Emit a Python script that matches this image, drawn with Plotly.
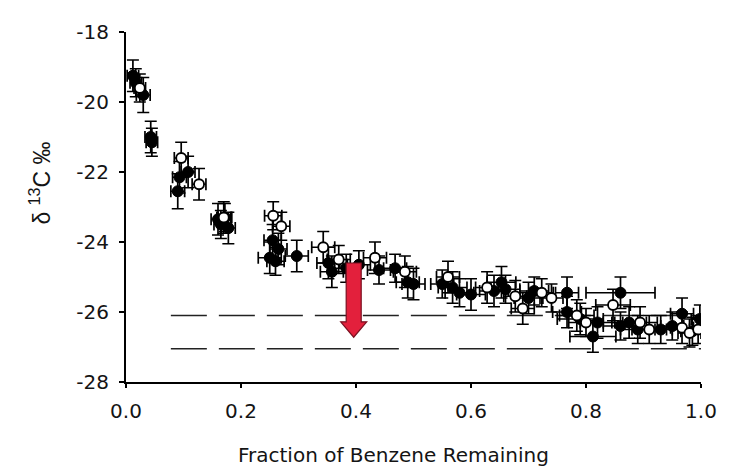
import plotly.graph_objects as go

# ---- data ----
filled_x = [0.012, 0.017, 0.030, 0.043, 0.045, 0.090, 0.093, 0.108, 0.160, 0.165, 0.172, 0.178,
            0.255, 0.250, 0.265, 0.260, 0.297, 0.352, 0.358, 0.383, 0.405, 0.440, 0.468, 0.490,
            0.500, 0.550, 0.568, 0.580, 0.600, 0.640, 0.653, 0.660, 0.700, 0.710, 0.767, 0.767,
            0.790, 0.812, 0.820, 0.860, 0.860, 0.875, 0.890, 0.930, 0.967, 0.998, 0.985, 0.950]
filled_y = [-19.25, -19.45, -19.80, -21.00, -21.15, -22.55, -22.15, -22.00, -23.35, -23.50, -23.30, -23.60,
            -23.95, -24.45, -24.20, -24.55, -24.40, -24.60, -24.85, -24.75, -24.65, -24.80, -24.75, -25.15,
            -25.20, -25.20, -25.30, -25.45, -25.50, -25.40, -25.15, -25.35, -25.60, -25.40, -25.45, -26.00,
            -26.20, -26.70, -26.30, -25.45, -26.40, -26.30, -26.50, -26.50, -26.05, -26.20, -26.55, -26.40]
filled_ex = [0.010, 0.010, 0.012, 0.010, 0.010, 0.012, 0.012, 0.012, 0.012, 0.012, 0.012, 0.012,
             0.015, 0.020, 0.015, 0.015, 0.020, 0.020, 0.020, 0.020, 0.020, 0.020, 0.020, 0.020,
             0.020, 0.020, 0.025, 0.025, 0.025, 0.025, 0.025, 0.025, 0.025, 0.025, 0.020, 0.025,
             0.040, 0.040, 0.030, 0.060, 0.030, 0.030, 0.030, 0.020, 0.020, 0.015, 0.020, 0.020]
filled_ey = [0.45, 0.40, 0.50, 0.45, 0.40, 0.50, 0.45, 0.45, 0.45, 0.40, 0.40, 0.45,
             0.45, 0.45, 0.45, 0.40, 0.45, 0.45, 0.45, 0.40, 0.40, 0.40, 0.40, 0.45,
             0.45, 0.40, 0.45, 0.40, 0.45, 0.45, 0.45, 0.40, 0.45, 0.40, 0.45, 0.45,
             0.45, 0.45, 0.45, 0.45, 0.40, 0.45, 0.40, 0.40, 0.45, 0.40, 0.40, 0.40]

open_x = [0.024, 0.096, 0.127, 0.170, 0.256, 0.270, 0.343, 0.370, 0.433, 0.485, 0.560, 0.628,
          0.677, 0.690, 0.723, 0.740, 0.784, 0.800, 0.847, 0.894, 0.910, 0.967, 0.980, 0.995]
open_y = [-19.60, -21.60, -22.35, -23.30, -23.25, -23.55, -24.15, -24.50, -24.45, -24.85, -25.00, -25.30,
          -25.55, -25.90, -25.45, -25.60, -26.10, -26.30, -25.80, -26.30, -26.50, -26.45, -26.60, -26.50]
open_ex = [0.010, 0.012, 0.012, 0.012, 0.015, 0.015, 0.020, 0.020, 0.020, 0.020, 0.020, 0.020,
           0.020, 0.020, 0.020, 0.020, 0.030, 0.030, 0.030, 0.030, 0.030, 0.020, 0.020, 0.015]
open_ey = [0.40, 0.45, 0.45, 0.45, 0.40, 0.40, 0.45, 0.40, 0.45, 0.45, 0.45, 0.45,
           0.45, 0.45, 0.40, 0.40, 0.45, 0.40, 0.45, 0.45, 0.40, 0.45, 0.40, 0.40]

dashed_levels = [-26.10, -27.05]
dashed_x = [0.078, 1.0]

arrow_x = 0.396
arrow_y_start = -24.6
arrow_y_head = -26.28
arrow_y_tip = -26.72

x_tick_vals = [0.0, 0.2, 0.4, 0.6, 0.8, 1.0]
x_tick_text = ["0.0", "0.2", "0.4", "0.6", "0.8", "1.0"]
y_tick_vals = [-28, -26, -24, -22, -20, -18]
y_tick_text = ["-28", "-26", "-24", "-22", "-20", "-18"]

FONT = "DejaVu Sans, Liberation Sans, Arial, sans-serif"
FONT_T = "Liberation Sans, Arial, sans-serif"
TXT = "#141414"

fig = go.Figure()

for lvl in dashed_levels:
    fig.add_trace(go.Scatter(
        x=dashed_x, y=[lvl, lvl], mode="lines",
        line=dict(color="#222222", width=1.6, dash="36px,12px"),
        hoverinfo="skip", showlegend=False))

err_style = dict(thickness=1.7, width=6, color="black")

fig.add_trace(go.Scatter(
    x=filled_x, y=filled_y, mode="markers",
    marker=dict(symbol="circle", size=11, color="black", line=dict(color="black", width=1)),
    error_x=dict(type="data", array=filled_ex, visible=True, **err_style),
    error_y=dict(type="data", array=filled_ey, visible=True, **err_style),
    showlegend=False))

fig.add_trace(go.Scatter(
    x=open_x, y=open_y, mode="markers",
    marker=dict(symbol="circle", size=10, color="white", line=dict(color="black", width=1.8)),
    error_x=dict(type="data", array=open_ex, visible=True, **err_style),
    error_y=dict(type="data", array=open_ey, visible=True, **err_style),
    showlegend=False))

# red block arrow (x in pixels relative to anchor, y in data units)
sw, hw = 7.5, 13
path = (f"M {-sw},{arrow_y_start} L {sw},{arrow_y_start} L {sw},{arrow_y_head} "
        f"L {hw},{arrow_y_head} L 0,{arrow_y_tip} L {-hw},{arrow_y_head} "
        f"L {-sw},{arrow_y_head} Z")
fig.add_shape(type="path", xref="x", yref="y", xsizemode="pixel", xanchor=arrow_x,
              path=path, fillcolor="#e3203c", line=dict(color="#7a1020", width=1.2),
              layer="above")

# page body has an 8px margin: figure is drawn 8px right/down of the window corner
fig.update_layout(
    width=725, height=459,
    margin=dict(l=118, r=32, t=24, b=85),
    paper_bgcolor="white", plot_bgcolor="white",
    font=dict(family=FONT, size=20, color=TXT),
    xaxis=dict(range=[0, 1.0], tickvals=x_tick_vals, ticktext=x_tick_text,
               showgrid=False, zeroline=False, showline=True, linecolor="black", linewidth=2,
               ticks="outside", ticklen=4, tickwidth=1.5, tickcolor="black",
               ticklabelstandoff=6,
               tickfont=dict(family=FONT, size=20, color=TXT)),
    yaxis=dict(range=[-28, -18], tickvals=y_tick_vals, ticktext=y_tick_text,
               showgrid=False, zeroline=False, showline=True, linecolor="black", linewidth=2,
               ticks="outside", ticklen=5, tickwidth=1.5, tickcolor="black",
               ticklabelstandoff=6,
               tickfont=dict(family=FONT, size=20, color=TXT)),
    annotations=[
        dict(text="Fraction of Benzene Remaining", xref="paper", yref="paper",
             x=0.466, y=-0.209, showarrow=False, xanchor="center", yanchor="middle",
             font=dict(family=FONT, size=20, color=TXT)),
        dict(text="δ <sup>13</sup>C ‰", xref="paper", yref="paper",
             x=-0.15, y=0.569, showarrow=False, textangle=-90,
             xanchor="center", yanchor="middle",
             font=dict(family=FONT_T, size=23, color=TXT)),
    ],
)

fig.write_html("out.html")
